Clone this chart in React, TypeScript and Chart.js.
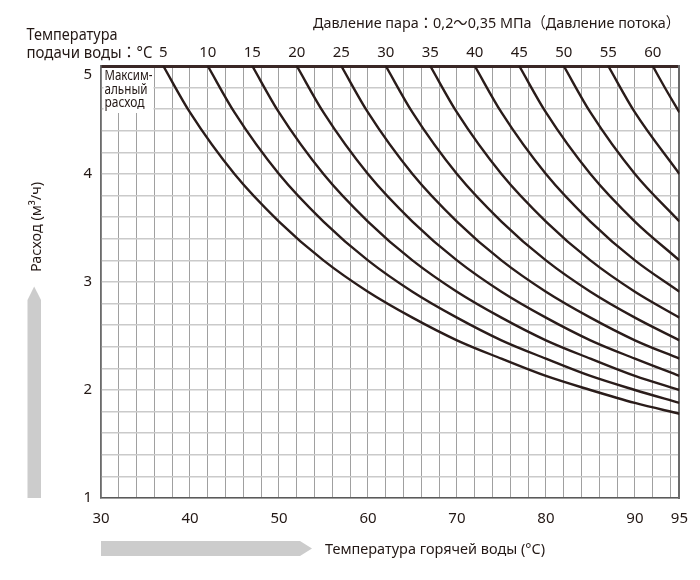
import React, { useEffect, useRef } from 'react';
import { Chart, registerables } from 'chart.js';

Chart.register(...registerables);

// Supply water temperature (°C) of each curve
const supplyTemps = [5, 10, 15, 20, 25, 30, 35, 40, 45, 50, 55, 60];

// Bottom axis labels (hot water temperature, °C)
const xTickLabels = [30, 40, 50, 60, 70, 80, 90, 95];
// Left axis labels (flow, m3/h)
const yTickLabels = [1, 2, 3, 4, 5];

// Curves: [hot water temperature, flow]
const curve05 = [[37, 5.0], [40, 4.57], [45, 4.0], [50, 3.56], [55, 3.2], [60, 2.91], [65, 2.67], [70, 2.46], [75, 2.29], [80, 2.13], [85, 2.0], [90, 1.88], [95, 1.78]];
const curve10 = [[42, 5.0], [45, 4.57], [50, 4.0], [55, 3.56], [60, 3.2], [65, 2.91], [70, 2.67], [75, 2.46], [80, 2.29], [85, 2.13], [90, 2.0], [95, 1.88]];
const curve15 = [[47, 5.0], [50, 4.57], [55, 4.0], [60, 3.56], [65, 3.2], [70, 2.91], [75, 2.67], [80, 2.46], [85, 2.29], [90, 2.13], [95, 2.0]];
const curve20 = [[52, 5.0], [55, 4.57], [60, 4.0], [65, 3.56], [70, 3.2], [75, 2.91], [80, 2.67], [85, 2.46], [90, 2.29], [95, 2.13]];
const curve25 = [[57, 5.0], [60, 4.57], [65, 4.0], [70, 3.56], [75, 3.2], [80, 2.91], [85, 2.67], [90, 2.46], [95, 2.29]];
const curve30 = [[62, 5.0], [65, 4.57], [70, 4.0], [75, 3.56], [80, 3.2], [85, 2.91], [90, 2.67], [95, 2.46]];
const curve35 = [[67, 5.0], [70, 4.57], [75, 4.0], [80, 3.56], [85, 3.2], [90, 2.91], [95, 2.67]];
const curve40 = [[72, 5.0], [75, 4.57], [80, 4.0], [85, 3.56], [90, 3.2], [95, 2.91]];
const curve45 = [[77, 5.0], [80, 4.57], [85, 4.0], [90, 3.56], [95, 3.2]];
const curve50 = [[82, 5.0], [85, 4.57], [90, 4.0], [95, 3.56]];
const curve55 = [[87, 5.0], [90, 4.57], [95, 4.0]];
const curve60 = [[92, 5.0], [93.5, 4.78], [95, 4.57]];

const curves = [curve05, curve10, curve15, curve20, curve25, curve30, curve35, curve40, curve45, curve50, curve55, curve60];
const curveStarts = curves.map((c) => c[0][0]);

const X_MIN = 30;
const X_MAX = 95;
const X_GRID_STEP = 2;
const Y_MIN = 1;
const Y_MAX = 5;
const Y_GRID_STEP = 0.2;

const FONT = '"Noto Sans", "Noto Sans CJK JP", sans-serif';
const TEXT = '#231815';
const LINE = '#2a1c1a';

function fitText(ctx: CanvasRenderingContext2D, text: string, x: number, y: number, width: number, size: number) {
  ctx.save();
  ctx.font = `${size}px ${FONT}`;
  const w = ctx.measureText(text).width;
  ctx.translate(x, y);
  ctx.scale(width / w, 1);
  ctx.textAlign = 'left';
  ctx.textBaseline = 'alphabetic';
  ctx.fillStyle = TEXT;
  ctx.fillText(text, 0, 0);
  ctx.restore();
}

const decorPlugin = {
  id: 'decor',
  beforeDatasetsDraw(chart: any) {
    const ctx = chart.ctx as CanvasRenderingContext2D;
    const a = chart.chartArea;
    ctx.save();
    ctx.fillStyle = '#ffffff';
    ctx.fillRect(a.left + 2.5, a.top + 2, 50, 45);
    ctx.restore();
    fitText(ctx, 'Максим-', a.left + 3.5, a.top + 13.5, 48, 14);
    fitText(ctx, 'альный', a.left + 3.5, a.top + 27.5, 43, 14);
    fitText(ctx, 'расход', a.left + 3.5, a.top + 41, 40, 14);
  },
  afterDraw(chart: any) {
    const ctx = chart.ctx as CanvasRenderingContext2D;
    const a = chart.chartArea;
    // Top-left axis caption
    fitText(ctx, 'Температура', 26.5, 39.5, 91, 15.5);
    fitText(ctx, 'подачи воды：°C', 26.5, 57.5, 126, 15.5);
    // Top-right caption
    fitText(ctx, 'Давление пара：0,2～0,35 МПа（Давление потока）', 313, 28, 367, 15);

    // Bottom arrow
    ctx.save();
    ctx.fillStyle = '#cccccc';
    const ay = 548.5;
    ctx.beginPath();
    ctx.moveTo(a.left, ay - 7.5);
    ctx.lineTo(a.left + 199, ay - 7.5);
    ctx.lineTo(a.left + 211, ay);
    ctx.lineTo(a.left + 199, ay + 7.5);
    ctx.lineTo(a.left, ay + 7.5);
    ctx.closePath();
    ctx.fill();
    // Left arrow
    ctx.beginPath();
    ctx.moveTo(27.5, a.bottom);
    ctx.lineTo(27.5, 300);
    ctx.lineTo(34.2, 286.5);
    ctx.lineTo(41, 300);
    ctx.lineTo(41, a.bottom);
    ctx.closePath();
    ctx.fill();
    ctx.restore();

    fitText(ctx, 'Температура горячей воды (°C)', 325, 553.5, 220, 15);

    // Rotated y title
    ctx.save();
    ctx.translate(40.5, 272);
    ctx.rotate(-Math.PI / 2);
    ctx.font = `14.5px ${FONT}`;
    const t = 'Расход (м³/ч)';
    const w = ctx.measureText(t).width;
    ctx.scale(90 / w, 1);
    ctx.fillStyle = TEXT;
    ctx.textBaseline = 'alphabetic';
    ctx.fillText(t, 0, 0);
    ctx.restore();
  },
};

export default function App() {
  const ref = useRef<HTMLCanvasElement | null>(null);

  useEffect(() => {
    if (!ref.current) return;
    const datasets = curves.map((c, i) => ({
      label: `${supplyTemps[i]}`,
      data: c.map(([x, y]) => ({ x, y })),
      borderColor: LINE,
      borderWidth: 2.4,
      pointRadius: 0,
      fill: false,
      cubicInterpolationMode: 'monotone' as const,
      xAxisID: 'x',
      yAxisID: 'y',
    }));

    const isVal = (v: number, t: number) => Math.abs(v - t) < 1e-6;

    const chart = new Chart(ref.current, {
      type: 'line',
      data: { datasets },
      options: {
        animation: false,
        responsive: false,
        devicePixelRatio: 1,
        layout: { padding: { left: 0, right: 20, top: 0, bottom: 0 } },
        plugins: { legend: { display: false }, tooltip: { enabled: false }, title: { display: false } },
        scales: {
          x: {
            type: 'linear',
            position: 'bottom',
            min: X_MIN,
            max: X_MAX,
            afterBuildTicks: (s: any) => {
              const t: any[] = [];
              for (let v = X_MIN; v < X_MAX; v += X_GRID_STEP) t.push({ value: v });
              t.push({ value: X_MAX });
              s.ticks = t;
            },
            afterFit: (s: any) => {
              s.height = 82;
            },
            ticks: {
              autoSkip: false,
              maxRotation: 0,
              minRotation: 0,
              padding: 12,
              color: TEXT,
              font: { family: FONT, size: 15 },
              callback: (v: any) => (xTickLabels.includes(Number(v)) ? String(v) : ''),
            },
            grid: {
              drawTicks: false,
              color: (c: any) => (c.tick && isVal(c.tick.value, X_MAX) ? '#6a6a6a' : '#a0a0a0'),
              lineWidth: (c: any) => (c.tick && isVal(c.tick.value, X_MAX) ? 2 : 1),
            },
            border: { display: true, color: '#5a5a5a', width: 1.5 },
          },
          xTop: {
            type: 'linear',
            position: 'top',
            min: X_MIN,
            max: X_MAX,
            afterBuildTicks: (s: any) => {
              s.ticks = curveStarts.map((v) => ({ value: v }));
            },
            afterFit: (s: any) => {
              s.height = 66;
            },
            ticks: {
              autoSkip: false,
              maxRotation: 0,
              minRotation: 0,
              padding: 4,
              color: TEXT,
              font: { family: FONT, size: 15 },
              callback: (v: any) => {
                const i = curveStarts.indexOf(Number(v));
                return i >= 0 ? String(supplyTemps[i]) : '';
              },
            },
            grid: { display: false, drawTicks: false },
            border: { display: true, color: '#3a2826', width: 3 },
          },
          y: {
            type: 'linear',
            position: 'left',
            min: Y_MIN,
            max: Y_MAX,
            afterFit: (s: any) => {
              s.width = 101;
            },
            ticks: {
              stepSize: Y_GRID_STEP,
              autoSkip: false,
              padding: 9,
              color: TEXT,
              font: { family: FONT, size: 15 },
              callback: (v: any) => {
                const n = Number(v);
                const lab = yTickLabels.find((t) => isVal(n, t));
                if (lab === undefined) return '';
                return lab === Y_MAX ? ['', String(lab)] : String(lab);
              },
            },
            grid: {
              drawTicks: false,
              color: '#cacaca',
              lineWidth: 1.5,
            },
            border: { display: true, color: '#6b6b6b', width: 1.5 },
          },
          yRight: {
            type: 'linear',
            position: 'right',
            min: Y_MIN,
            max: Y_MAX,
            afterFit: (s: any) => {
              s.width = 0;
            },
            ticks: { display: false },
            grid: { display: false, drawTicks: false },
            border: { display: true, color: '#6a6a6a', width: 2 },
          },
        },
      },
      plugins: [decorPlugin],
    });
    return () => chart.destroy();
  }, []);

  return (
    <div style={{ position: 'absolute', left: 0, top: 0, width: 700, height: 580, background: '#fff' }}>
      <canvas ref={ref} width={700} height={580} style={{ width: 700, height: 580, display: 'block' }} />
    </div>
  );
}
